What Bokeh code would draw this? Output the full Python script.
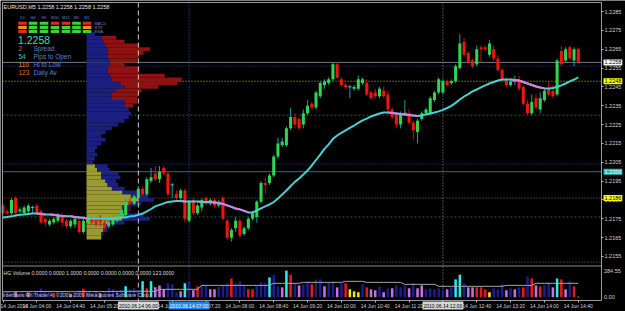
from bokeh.plotting import figure
from bokeh.models import Range1d, FixedTicker, PrintfTickFormatter, Label, LinearAxis
from bokeh.embed import file_html
from bokeh.resources import INLINE

FONT = "Liberation Sans"

# ---------------- data ----------------
tick_idx = [0, 8, 16, 24, 32, 40, 48, 56, 64, 72, 80, 88, 96, 104, 112, 120, 128, 136]
tick_labels = ["14 Jun 2010", "14 Jun 04:00", "14 Jun 04:40", "14 Jun 05:20", "14 Jun 06:00",
               "14 Jun 06:40", "14 Jun 07:20", "14 Jun 08:00", "14 Jun 08:40", "14 Jun 09:20",
               "14 Jun 10:00", "14 Jun 10:40", "14 Jun 11:20", "14 Jun 12:00", "14 Jun 12:40",
               "14 Jun 13:20", "14 Jun 14:00", "14 Jun 14:40"]
price_ticks = [1.2155, 1.2165, 1.2175, 1.2185, 1.2195, 1.2205, 1.2215, 1.2225, 1.2235,
               1.2245, 1.2255, 1.2265, 1.2275, 1.2285]

opens = [1.2182, 1.2179, 1.2178, 1.2186, 1.2179, 1.2178, 1.2179, 1.2181, 1.2182, 1.2179,
         1.2175, 1.2172, 1.2173, 1.2174, 1.2177, 1.2174, 1.2171, 1.2172, 1.2174, 1.2168,
         1.2173, 1.2175, 1.2175, 1.2176, 1.2173, 1.2171, 1.2172, 1.2174, 1.2177, 1.2177,
         1.2184, 1.2183, 1.2186, 1.2191, 1.2188, 1.2195, 1.2199, 1.2196, 1.2202, 1.2199,
         1.2193, 1.2188, 1.2186, 1.2190, 1.2174, 1.2185, 1.2178, 1.2181, 1.2186, 1.2183,
         1.2185, 1.2182, 1.2186, 1.2174, 1.2165, 1.2170, 1.2174, 1.2167, 1.2170, 1.2175,
         1.2176, 1.2184, 1.2194, 1.2194, 1.2198, 1.2208, 1.2214, 1.2214, 1.2223, 1.2229,
         1.2228, 1.2225, 1.2231, 1.2236, 1.2234, 1.2240, 1.2246, 1.2247, 1.2249, 1.2257,
         1.2249, 1.2246, 1.2245, 1.2244, 1.2244, 1.2247, 1.2247, 1.2242, 1.2242, 1.2240,
         1.2243, 1.2241, 1.2233, 1.2230, 1.2225, 1.2231, 1.2231, 1.2226, 1.2221, 1.2228,
         1.2231, 1.2231, 1.2238, 1.2242, 1.2242, 1.2248, 1.2247, 1.2248, 1.2255, 1.2269,
         1.2263, 1.2259, 1.2257, 1.2266, 1.2266, 1.2262, 1.2265, 1.2260, 1.2254, 1.2249,
         1.2246, 1.2248, 1.2248, 1.2245, 1.2236, 1.2231, 1.2239, 1.2233, 1.2238, 1.2244,
         1.2243, 1.2241, 1.2264, 1.2259, 1.2266, 1.2259, 1.2265]
highs = [1.2183, 1.2180, 1.2186, 1.2187, 1.2181, 1.2182, 1.2183, 1.2182, 1.2183, 1.2180,
         1.2176, 1.2175, 1.2176, 1.2178, 1.2178, 1.2175, 1.2175, 1.2176, 1.2175, 1.2175,
         1.2176, 1.2176, 1.2176, 1.2177, 1.2174, 1.2174, 1.2176, 1.2177, 1.2182, 1.2186,
         1.2186, 1.2188, 1.2192, 1.2192, 1.2197, 1.2202, 1.2203, 1.2203, 1.2203, 1.2200,
         1.2194, 1.2190, 1.2191, 1.2191, 1.2185, 1.2186, 1.2183, 1.2186, 1.2187, 1.2186,
         1.2186, 1.2185, 1.2187, 1.2175, 1.2170, 1.2176, 1.2175, 1.2171, 1.2176, 1.2179,
         1.2185, 1.2195, 1.2197, 1.2199, 1.2209, 1.2218, 1.2218, 1.2224, 1.2234, 1.2231,
         1.2229, 1.2233, 1.2238, 1.2237, 1.2243, 1.2248, 1.2249, 1.2250, 1.2258, 1.2258,
         1.2250, 1.2247, 1.2246, 1.2246, 1.2251, 1.2250, 1.2249, 1.2243, 1.2244, 1.2245,
         1.2245, 1.2243, 1.2234, 1.2231, 1.2232, 1.2238, 1.2233, 1.2227, 1.2228, 1.2232,
         1.2234, 1.2240, 1.2243, 1.2250, 1.2249, 1.2249, 1.2249, 1.2257, 1.2273, 1.2271,
         1.2264, 1.2260, 1.2267, 1.2267, 1.2267, 1.2270, 1.2267, 1.2262, 1.2255, 1.2250,
         1.2249, 1.2251, 1.2251, 1.2246, 1.2238, 1.2241, 1.2241, 1.2242, 1.2244, 1.2248,
         1.2246, 1.2260, 1.2267, 1.2266, 1.2267, 1.2266, 1.2266]
lows = [1.2177, 1.2177, 1.2177, 1.2177, 1.2178, 1.2177, 1.2178, 1.2178, 1.2177, 1.2172,
        1.2171, 1.2171, 1.2172, 1.2173, 1.2171, 1.2170, 1.2170, 1.2170, 1.2167, 1.2167,
        1.2172, 1.2172, 1.2171, 1.2171, 1.2169, 1.2170, 1.2171, 1.2173, 1.2176, 1.2176,
        1.2179, 1.2182, 1.2185, 1.2187, 1.2187, 1.2194, 1.2195, 1.2194, 1.2198, 1.2187,
        1.2186, 1.2185, 1.2185, 1.2173, 1.2173, 1.2177, 1.2177, 1.2179, 1.2182, 1.2182,
        1.2181, 1.2181, 1.2174, 1.2164, 1.2163, 1.2168, 1.2165, 1.2166, 1.2169, 1.2174,
        1.2173, 1.2183, 1.2188, 1.2193, 1.2197, 1.2207, 1.2213, 1.2213, 1.2222, 1.2223,
        1.2222, 1.2223, 1.2230, 1.2233, 1.2233, 1.2239, 1.2244, 1.2246, 1.2248, 1.2249,
        1.2245, 1.2244, 1.2239, 1.2243, 1.2243, 1.2246, 1.2240, 1.2238, 1.2239, 1.2239,
        1.2239, 1.2231, 1.2228, 1.2223, 1.2223, 1.2230, 1.2225, 1.2217, 1.2215, 1.2227,
        1.2230, 1.2230, 1.2237, 1.2241, 1.2241, 1.2245, 1.2246, 1.2247, 1.2254, 1.2261,
        1.2257, 1.2255, 1.2256, 1.2258, 1.2264, 1.2261, 1.2259, 1.2253, 1.2248, 1.2245,
        1.2245, 1.2246, 1.2243, 1.2235, 1.2230, 1.2230, 1.2233, 1.2231, 1.2237, 1.2240,
        1.2239, 1.2240, 1.2256, 1.2258, 1.2259, 1.2256, 1.2257]
closes = [1.2178, 1.2178, 1.2185, 1.2178, 1.2180, 1.2181, 1.2182, 1.2181, 1.2178, 1.2173,
          1.2173, 1.2174, 1.2175, 1.2177, 1.2173, 1.2171, 1.2174, 1.2175, 1.2168, 1.2174,
          1.2175, 1.2173, 1.2172, 1.2173, 1.2170, 1.2173, 1.2175, 1.2176, 1.2180, 1.2184,
          1.2183, 1.2187, 1.2191, 1.2188, 1.2196, 1.2197, 1.2196, 1.2200, 1.2199, 1.2188,
          1.2193, 1.2186, 1.2190, 1.2175, 1.2184, 1.2178, 1.2182, 1.2185, 1.2183, 1.2185,
          1.2182, 1.2184, 1.2175, 1.2165, 1.2169, 1.2174, 1.2166, 1.2170, 1.2175, 1.2178,
          1.2184, 1.2194, 1.2193, 1.2198, 1.2208, 1.2215, 1.2216, 1.2223, 1.2229, 1.2225,
          1.2223, 1.2231, 1.2235, 1.2234, 1.2242, 1.2247, 1.2248, 1.2249, 1.2257, 1.2250,
          1.2246, 1.2245, 1.2245, 1.2245, 1.2249, 1.2249, 1.2241, 1.2239, 1.2240, 1.2244,
          1.2240, 1.2233, 1.2229, 1.2225, 1.2231, 1.2231, 1.2226, 1.2222, 1.2227, 1.2231,
          1.2233, 1.2239, 1.2242, 1.2249, 1.2248, 1.2246, 1.2248, 1.2256, 1.2268, 1.2262,
          1.2258, 1.2256, 1.2265, 1.2265, 1.2265, 1.2268, 1.2260, 1.2254, 1.2249, 1.2246,
          1.2248, 1.2248, 1.2244, 1.2236, 1.2231, 1.2237, 1.2234, 1.2239, 1.2243, 1.2241,
          1.2240, 1.2259, 1.2257, 1.2265, 1.2260, 1.2265, 1.2258]

ma_values = [1.21757, 1.21760, 1.21763, 1.21768, 1.21771, 1.21773, 1.21776, 1.21778, 1.21778, 1.21776,
             1.21773, 1.21773, 1.21771, 1.21768, 1.21765, 1.21763, 1.21763, 1.21760, 1.21757, 1.21755,
             1.21752, 1.21752, 1.21752, 1.21752, 1.21752, 1.21752, 1.21752, 1.21755, 1.21757, 1.21757,
             1.21763, 1.21765, 1.21771, 1.21778, 1.21789, 1.21802, 1.21816, 1.21824, 1.21832, 1.21839,
             1.21842, 1.21845, 1.21845, 1.21842, 1.21842, 1.21842, 1.21842, 1.21839, 1.21839, 1.21839,
             1.21837, 1.21834, 1.21829, 1.21821, 1.21813, 1.21805, 1.21800, 1.21792, 1.21784, 1.21784,
             1.21794, 1.21805, 1.21816, 1.21826, 1.21839, 1.21858, 1.21879, 1.21900, 1.21924, 1.21946,
             1.21964, 1.21985, 1.22007, 1.22033, 1.22062, 1.22091, 1.22121, 1.22145, 1.22174, 1.22192,
             1.22206, 1.22219, 1.22232, 1.22245, 1.22259, 1.22272, 1.22282, 1.22293, 1.22301, 1.22309,
             1.22314, 1.22314, 1.22312, 1.22309, 1.22306, 1.22304, 1.22301, 1.22298, 1.22296, 1.22298,
             1.22304, 1.22309, 1.22314, 1.22320, 1.22328, 1.22338, 1.22349, 1.22365, 1.22383, 1.22399,
             1.22412, 1.22426, 1.22436, 1.22447, 1.22458, 1.22468, 1.22476, 1.22484, 1.22489, 1.22489,
             1.22489, 1.22487, 1.22484, 1.22476, 1.22468, 1.22460, 1.22452, 1.22447, 1.22442, 1.22442,
             1.22444, 1.22450, 1.22458, 1.22468, 1.22479, 1.22489, 1.22500]

volumes = [50, 60, 45, 55, 40, 35, 50, 40, 60, 95,
           70, 55, 45, 40, 60, 50, 35, 45, 75, 90,
           60, 45, 55, 40, 65, 95, 85, 70, 80, 116,
           85, 95, 74, 169, 95, 169, 105, 126, 84, 148,
           137, 53, 63, 148, 169, 74, 116, 126, 126, 84,
           84, 110, 126, 148, 200, 148, 169, 126, 84, 84,
           126, 158, 148, 211, 240, 116, 105, 284, 240, 148,
           126, 137, 169, 137, 190, 190, 116, 158, 169, 105,
           148, 148, 84, 63, 53, 137, 105, 84, 74, 116,
           53, 95, 95, 126, 105, 126, 95, 148, 95, 126,
           84, 95, 84, 95, 84, 84, 105, 190, 240, 148,
           105, 105, 105, 105, 84, 53, 95, 84, 137, 74,
           95, 84, 105, 105, 221, 200, 126, 116, 126, 158,
           105, 200, 190, 84, 169, 116, 5]
volume_class = ["N", "N", "N", "M", "N", "N", "M", "N", "N", "N",
                "N", "N", "R", "N", "N", "N", "M", "N", "N", "R",
                "N", "N", "N", "M", "N", "N", "N", "N", "N", "C",
                "N", "N", "N", "C", "R", "C", "M", "M", "M", "N",
                "N", "N", "M", "C", "N", "M", "R", "N", "N", "M",
                "M", "N", "N", "N", "R", "N", "N", "N", "R", "R",
                "N", "N", "N", "C", "N", "N", "M", "C", "R", "N",
                "M", "N", "N", "R", "N", "N", "M", "N", "N", "M",
                "N", "R", "Y", "Y", "Y", "N", "R", "M", "M", "N",
                "M", "N", "M", "N", "N", "N", "M", "N", "M", "M",
                "N", "N", "N", "N", "N", "M", "N", "C", "C", "N",
                "M", "M", "R", "R", "R", "Y", "N", "N", "N", "M",
                "N", "M", "N", "R", "N", "R", "M", "R", "N", "N",
                "M", "C", "R", "M", "N", "R", "Y"]
volume_avg = [58, 58, 59, 59, 59, 60, 60, 60, 60, 61,
              61, 61, 60, 60, 60, 60, 59, 59, 59, 60,
              60, 60, 60, 60, 61, 61, 62, 62, 62, 63,
              63, 63, 63, 63, 63, 63, 63, 84, 84, 84,
              84, 84, 84, 84, 84, 84, 84, 126, 126, 126,
              126, 126, 126, 126, 126, 126, 126, 126, 126, 126,
              126, 126, 126, 126, 148, 148, 148, 148, 148, 148,
              148, 158, 158, 158, 158, 158, 158, 158, 158, 158,
              158, 169, 169, 169, 169, 169, 158, 158, 158, 158,
              158, 158, 158, 158, 158, 137, 137, 137, 137, 137,
              137, 137, 137, 116, 116, 116, 116, 116, 116, 116,
              116, 116, 116, 116, 116, 116, 116, 116, 116, 126,
              126, 126, 126, 126, 126, 126, 148, 148, 148, 148,
              148, 148, 148, 148, 148, 148, 148]

# market profile (2-pip bins): yellow, blue and red counts stacked left to right
profile_price = [1.2273, 1.2271, 1.2269, 1.2267, 1.2265, 1.2263, 1.2261, 1.2259, 1.2257, 1.2255,
                 1.2253, 1.2251, 1.2249, 1.2247, 1.2245, 1.2243, 1.2241, 1.2239, 1.2237, 1.2235,
                 1.2233, 1.2231, 1.2229, 1.2227, 1.2225, 1.2223, 1.2221, 1.2219, 1.2217, 1.2215,
                 1.2213, 1.2211, 1.2209, 1.2207, 1.2205, 1.2203, 1.2201, 1.2199, 1.2197, 1.2195,
                 1.2193, 1.2191, 1.2189, 1.2187, 1.2185, 1.2183, 1.2181, 1.2179, 1.2177, 1.2175,
                 1.2173, 1.2171, 1.2169, 1.2167, 1.2165]
profile_yellow = [0, 0, 0, 0, 0, 0, 0, 0, 0, 0,
                  0, 0, 0, 0, 0, 0, 0, 0, 0, 0,
                  0, 0, 0, 0, 0, 0, 0, 0, 0, 0,
                  0, 0, 0, 0, 0, 4, 5, 7, 7, 9,
                  10, 12, 17, 21, 25, 20, 17, 16, 18, 17,
                  11, 9, 8, 7, 7]
profile_blue = [4, 7, 8, 9, 10, 10, 10, 11, 11, 10,
                10, 11, 12, 16, 18, 14, 12, 12, 18, 18,
                20, 21, 20, 18, 15, 12, 9, 7, 9, 7,
                5, 4, 5, 4, 3, 6, 6, 8, 9, 5,
                5, 6, 8, 8, 7, 6, 3, 4, 9, 13,
                7, 2, 2, 1, 0]
profile_red = [0, 7, 10, 16, 20, 17, 15, 13, 7, 15,
               15, 26, 33, 27, 16, 12, 13, 12, 6, 4,
               0, 0, 0, 0, 0, 0, 0, 0, 0, 0,
               0, 0, 0, 0, 0, 0, 0, 0, 0, 0,
               0, 0, 0, 0, 0, 0, 0, 0, 0, 0,
               0, 0, 0, 0, 0]

level_prices = [1.2258, 1.2256, 1.2248, 1.2230, 1.2204, 1.2200, 1.2186, 1.2176, 1.2152]
level_colors = ["#707a88", "#2a3cc8", "#c8c800", "#2f5a4c", "#2a3cc8", "#2e7272", "#8a6a1c", "#2e5a2e", "#8a6a1c"]
level_dashes = ["solid", "1 2", "1 2", "2 2", "1 2", "solid", "1 2", "2 2", "1 2"]

vline_bars = [32, 44, 104]
vline_colors = ["#c8c8c8", "#2f55d0", "#9a9a9a"]
vline_dashes = ["5 3", "1 2", "1 2"]
vline_labels = ["2010.06.14 06:00", "2010.06.14 07:00", "2010.06.14 12:00"]
vline_label_bg = ["#d8d8d8", "#1e88f0", "#d8d8d8"]
vline_label_fg = ["#000000", "#ffffff", "#000000"]

price_boxes = [1.2258, 1.2248, 1.2200, 1.2186]
price_box_bg = ["#ffffff", "#ffff00", "#28bcbc", "#ffff00"]
price_box_fg = ["#000000", "#000000", "#ffffff", "#000000"]

vol_axis_values = [284.55, 0.0]
vol_axis_text = ["284.55", "0.00"]

tf_names = ["D1", "H4", "H1", "M30", "M15", "M5", "M1"]
signal_rows = ["MACD", "STR", "EMA"]
signal_grid = [["dn", "up", "up", "dn", "dn", "up", "dn"],
               ["nt", "up", "up", "up", "up", "up", "nt"],
               ["dn", "up", "up", "up", "up", "up", "up"]]
info_values = ["2", "54", "110", "123"]
info_names = ["Spread", "Pips to Open", "Hi to Low", "Daily Av"]
info_colors = ["#c87038", "#40c8b8", "#e09830", "#e86830"]
bid_text = "1.2258"

# ---------------- layout / style ----------------
W, H = 625, 311
CH_L, CH_T, CH_R, CH_B = 2, 2, 601, 300      # chart border (pixels)
PX_PER_BAR = 4.23
BAR0_PX = 2.5
PX_PER_PRICE = 18846.0
PRICE_REF, PRICE_REF_PX = 1.2285, 11.0
VOL_ZERO_PX, VOL_MAX_PX, VOL_MAX = 296.7, 270.0, 284.55
VOL_SEP_PX = 265.5

# the plot frame covers the whole canvas; scales are set so the chart sits in the border box
x_start = (0 - BAR0_PX) / PX_PER_BAR
x_end = (W - BAR0_PX) / PX_PER_BAR
p_top = PRICE_REF + (PRICE_REF_PX - 0) / PX_PER_PRICE
p_bot = PRICE_REF - (H - PRICE_REF_PX) / PX_PER_PRICE
vpx = (VOL_ZERO_PX - VOL_MAX_PX) / VOL_MAX
v_top = VOL_ZERO_PX / vpx
v_bot = -(H - VOL_ZERO_PX) / vpx


def px2x(cx):
    return x_start + cx / PX_PER_BAR


def px2y(cy):
    return p_top - cy / PX_PER_PRICE


def px2v(cy):
    return (VOL_ZERO_PX - cy) / vpx


BULL_BODY, BEAR_BODY = "#30d452", "#f01414"
BULL_WICK, BEAR_WICK, DOJI = "#1f9c9c", "#c01010", "#40c4c4"
MA_UP, MA_DN = "#45d2d2", "#e07ae0"
VOL_COLORS = {"N": "#1c1c8c", "R": "#e81818", "M": "#c472dc", "C": "#30e8e8", "Y": "#e8e820"}
AXIS_TEXT = "#d4d4d4"
BORDER = "#9a9a9a"

p = figure(width=W, height=H, x_range=Range1d(x_start, x_end), y_range=Range1d(p_bot, p_top),
           output_backend="svg", toolbar_location=None,
           x_axis_location=None, y_axis_location=None,
           min_border=0, min_border_left=0, min_border_right=0, min_border_top=0, min_border_bottom=0,
           background_fill_color="black", border_fill_color="black")
p.extra_y_ranges = {"vol": Range1d(v_bot, v_top)}
p.grid.visible = False
p.outline_line_color = None

XL, XR = px2x(CH_L), px2x(CH_R)
YT, YB = px2y(CH_T), px2y(CH_B)

# price scale on the right edge of the chart
ya = LinearAxis(fixed_location=XR, ticker=FixedTicker(ticks=price_ticks),
                formatter=PrintfTickFormatter(format="%.4f"))
ya.major_label_text_font = FONT
ya.major_label_text_font_size = "5.5px"
ya.major_label_text_color = AXIS_TEXT
ya.major_tick_out = 2
ya.major_tick_in = 0
ya.minor_tick_out = 0
ya.minor_tick_in = 0
ya.major_label_standoff = 1
ya.axis_line_color = None
ya.major_tick_line_color = "#b8b8b8"
p.add_layout(ya, "right")

# time scale under the chart
xa = LinearAxis(fixed_location=YB, ticker=FixedTicker(ticks=tick_idx))
xa.major_label_overrides = {t: s for t, s in zip(tick_idx, tick_labels)}
xa.major_label_text_font = FONT
xa.major_label_text_font_size = "5px"
xa.major_label_text_color = AXIS_TEXT
xa.major_label_text_align = "left"
xa.major_tick_out = 2
xa.major_tick_in = 0
xa.minor_tick_out = 0
xa.minor_tick_in = 0
xa.major_label_standoff = 0
xa.axis_line_color = None
xa.major_tick_line_color = "#b8b8b8"
p.add_layout(xa, "below")

# horizontal levels
for lp, lc, ld in zip(level_prices, level_colors, level_dashes):
    p.segment(x0=[XL], x1=[XR], y0=[lp], y1=[lp], line_color=lc, line_width=1, line_dash=ld)

# market profile
n_prof = len(profile_price)
PROF_X0 = px2x(86.0)
PROF_UNIT = 0.5
y_end = [PROF_X0 + PROF_UNIT * profile_yellow[k] for k in range(n_prof)]
b_end = [y_end[k] + PROF_UNIT * profile_blue[k] for k in range(n_prof)]
r_end = [b_end[k] + PROF_UNIT * profile_red[k] for k in range(n_prof)]
BIN_H = 0.0002
p.hbar(y=profile_price, height=BIN_H, left=[PROF_X0] * n_prof, right=y_end,
       fill_color="#9a9a32", line_color=None)
p.hbar(y=profile_price, height=BIN_H, left=y_end, right=b_end,
       fill_color="#1b2080", line_color=None)
p.hbar(y=profile_price, height=BIN_H, left=b_end, right=r_end,
       fill_color="#8e1212", line_color=None)

# vertical lines (through both panes)
for vb, vc, vd in zip(vline_bars, vline_colors, vline_dashes):
    p.segment(x0=[vb], x1=[vb], y0=[YT], y1=[YB], line_color=vc, line_width=1, line_dash=vd)

# candles
N = len(closes)
idx = list(range(N))
wick_col = [BULL_WICK if c >= o else BEAR_WICK for o, c in zip(opens, closes)]
p.segment(x0=idx, y0=lows, x1=idx, y1=highs, line_color=wick_col, line_width=1)
nd = [i for i in idx if opens[i] != closes[i]]
p.vbar(x=nd, width=0.72,
       top=[max(opens[i], closes[i]) for i in nd],
       bottom=[min(opens[i], closes[i]) for i in nd],
       fill_color=[BULL_BODY if closes[i] > opens[i] else BEAR_BODY for i in nd],
       line_color=None)
dj = [i for i in idx if opens[i] == closes[i]]
p.segment(x0=[i - 0.4 for i in dj], x1=[i + 0.4 for i in dj],
          y0=[opens[i] for i in dj], y1=[opens[i] for i in dj], line_color=DOJI, line_width=1)

# moving average (cyan rising, magenta falling)
p.line(idx, ma_values, line_color=MA_UP, line_width=2)
dn = [i for i in range(N - 1) if ma_values[i + 1] < ma_values[i]]
p.segment(x0=dn, x1=[i + 1 for i in dn], y0=[ma_values[i] for i in dn],
          y1=[ma_values[i + 1] for i in dn], line_color=MA_DN, line_width=2)

# volume pane
p.segment(x0=[XL], x1=[XR], y0=[px2v(VOL_SEP_PX)], y1=[px2v(VOL_SEP_PX)], y_range_name="vol",
          line_color="#8c8c8c", line_width=1)
p.vbar(x=idx, top=volumes, bottom=0, width=0.6, y_range_name="vol",
       fill_color=[VOL_COLORS[k] for k in volume_class], line_color=None)
p.line(idx, volume_avg, y_range_name="vol", line_color="#a8a8a8", line_width=1)

# chart border
p.quad(left=[XL], right=[XR], top=[YT], bottom=[YB], fill_color=None, line_color=BORDER, line_width=1)

for txt, v in zip(vol_axis_text, vol_axis_values):
    p.add_layout(Label(x=px2x(603.5), y=v, y_range_name="vol", text=txt, text_font=FONT,
                       text_font_size="5.5px", text_color=AXIS_TEXT, text_baseline="middle"))

p.add_layout(Label(x=px2x(3), y=px2v(272.5), y_range_name="vol",
                   text="HG Volume 0.0000 0.0000 1.0000 0.0000 0.0000 0.0000 0.0000 123.0000",
                   text_font=FONT, text_font_size="5.2px", text_color="#dcdcdc",
                   text_baseline="middle"))
p.add_layout(Label(x=px2x(2), y=px2v(294.5), y_range_name="vol",
                   text="Interbank FX Trader 4, \u00a92001-2009 MetaQuotes Software Corp.",
                   text_font=FONT, text_font_size="5.2px", text_color="#bcbcbc",
                   text_baseline="middle"))

# price boxes on the right scale
for pb, bg, fg in zip(price_boxes, price_box_bg, price_box_fg):
    p.add_layout(Label(x=px2x(603), y=pb, text=f"{pb:.4f}", text_font=FONT,
                       text_font_size="5.5px", text_color=fg, text_baseline="middle",
                       background_fill_color=bg, padding=1))

# time boxes for vertical lines
for vb, txt, bg, fg in zip(vline_bars, vline_labels, vline_label_bg, vline_label_fg):
    p.add_layout(Label(x=vb, y=px2y(305), text=txt, text_font=FONT, text_font_size="5px",
                       text_color=fg, text_align="center", text_baseline="middle",
                       background_fill_color=bg, padding=1))

# title
p.add_layout(Label(x=px2x(3), y=px2y(6), text="EURUSD,M5  1.2258 1.2258 1.2258 1.2258",
                   text_font=FONT, text_font_size="5.5px", text_color="#e8e8e8",
                   text_baseline="middle"))

# signal panel
col_cx = [22, 32.5, 43.5, 54.5, 65.5, 76, 86.5]
row_cy = [22.7, 26.9, 31.0]
SIG_COLORS = {"up": "#3cd23c", "dn": "#e02828", "nt": "#e89020"}
for name, cx in zip(tf_names, col_cx):
    p.add_layout(Label(x=px2x(cx), y=px2y(17.2), text=name, text_font=FONT,
                       text_font_size="4px", text_color="#6a80c8", text_align="center",
                       text_baseline="middle"))
qx0, qx1, qy0, qy1, qc = [], [], [], [], []
for r, cy in enumerate(row_cy):
    for c, cx in enumerate(col_cx):
        qx0.append(px2x(cx - 4.3))
        qx1.append(px2x(cx + 4.3))
        qy0.append(px2y(cy + 1.5))
        qy1.append(px2y(cy - 1.5))
        qc.append(SIG_COLORS[signal_grid[r][c]])
    p.add_layout(Label(x=px2x(94), y=px2y(cy), text=signal_rows[r], text_font=FONT,
                       text_font_size="4px", text_color="#6a80c8", text_baseline="middle"))
p.quad(left=qx0, right=qx1, bottom=qy0, top=qy1, fill_color=qc, line_color=None)

p.add_layout(Label(x=px2x(17.5), y=px2y(39.3), text=bid_text, text_font=FONT,
                   text_font_size="10.5px", text_color="#44d8ae", text_baseline="middle"))
for k, (iv, nm, ic) in enumerate(zip(info_values, info_names, info_colors)):
    cy = 48.3 + 7.8 * k
    p.add_layout(Label(x=px2x(18), y=px2y(cy), text=iv, text_font=FONT, text_font_size="6.5px",
                       text_color=ic, text_baseline="middle"))
    p.add_layout(Label(x=px2x(33), y=px2y(cy), text=nm, text_font=FONT, text_font_size="6.5px",
                       text_color="#5f80d2", text_baseline="middle"))

open("out.html", "w").write(file_html(p, INLINE))
